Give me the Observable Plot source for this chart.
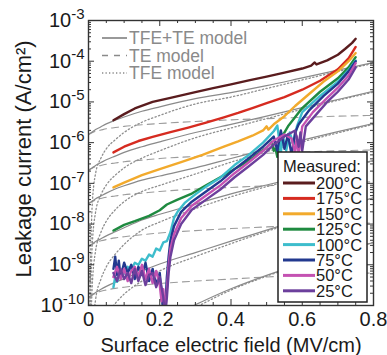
<!DOCTYPE html>
<html><head><meta charset="utf-8">
<script src="https://cdn.jsdelivr.net/npm/d3@7"></script>
<script src="https://cdn.jsdelivr.net/npm/@observablehq/plot@0.6"></script>
<style>
body{margin:0;background:#fff;}
#chart svg{font-family:"Liberation Sans",Arial,Helvetica,sans-serif;}
</style></head><body><div id="chart"></div>
<script>
// ---------- data ----------
const tempLabels = ["200°C","175°C","150°C","125°C","100°C","75°C","50°C","25°C"];
const tempColors = ["#5a1c1e","#d62b20","#f2aa2c","#1f8a40","#3dbdcc","#22398f","#c452b2","#6c3f9c"];
const modelLegend = ["TFE+TE model","TE model","TFE model"];
const xTitle = "Surface electric field (MV/cm)";
const yTitle = "Leakage current (A/cm²)";
const xMajor = [0,0.2,0.4,0.6,0.8];
const xMinor = [0.05,0.1,0.15,0.25,0.3,0.35,0.45,0.5,0.55,0.65,0.7,0.75];
const yMajor = [1e-10,1e-9,1e-8,1e-7,1e-6,1e-5,1e-4,1e-3];

// model curves: log10(J) at these fields, for 200,175,150,125,100,75 °C
const modelField = [0,0.01,0.02,0.035,0.05,0.075,0.1,0.15,0.2,0.3,0.4,0.5,0.6,0.7,0.8];
const modelTemps = ["200°C","175°C","150°C","125°C","100°C","75°C"];
const solidLog = [
  [-5.8,-5.74,-5.68,-5.61,-5.54,-5.45,-5.37,-5.23,-5.12,-4.92,-4.77,-4.6,-4.41,-4.22,-4.03],
  [-6.68,-6.62,-6.56,-6.49,-6.42,-6.33,-6.24,-6.1,-5.98,-5.75,-5.55,-5.35,-5.14,-4.94,-4.74],
  [-7.5,-7.44,-7.38,-7.31,-7.24,-7.14,-7.06,-6.92,-6.82,-6.62,-6.39,-6.16,-5.94,-5.73,-5.53],
  [-8.55,-8.49,-8.43,-8.36,-8.29,-8.19,-8.09,-7.9,-7.76,-7.51,-7.26,-7.04,-6.83,-6.63,-6.44],
  [-9.8,-9.74,-9.68,-9.6,-9.53,-9.43,-9.34,-9.15,-8.98,-8.7,-8.42,-8.15,-7.88,-7.61,-7.35],
  [-11.3,-11.25,-11.2,-11.15,-11.1,-11.03,-10.95,-10.62,-10.39,-9.98,-9.59,-9.26,-8.97,-8.69,-8.45]
];
const teLog = [
  [-5.8,-5.76,-5.72,-5.69,-5.66,-5.63,-5.6,-5.56,-5.53,-5.48,-5.44,-5.41,-5.38,-5.35,-5.33],
  [-6.68,-6.63,-6.59,-6.56,-6.53,-6.5,-6.47,-6.43,-6.39,-6.34,-6.3,-6.26,-6.23,-6.2,-6.18],
  [-7.5,-7.45,-7.41,-7.37,-7.34,-7.31,-7.28,-7.24,-7.2,-7.14,-7.1,-7.06,-7.02,-6.99,-6.96],
  [-8.55,-8.5,-8.45,-8.41,-8.38,-8.34,-8.31,-8.26,-8.22,-8.16,-8.11,-8.07,-8.03,-8.0,-7.97],
  [-9.8,-9.75,-9.7,-9.65,-9.62,-9.58,-9.55,-9.5,-9.46,-9.4,-9.35,-9.3,-9.26,-9.23,-9.2],
  [-11.3,-11.25,-11.2,-11.15,-11.1,-11.05,-11.0,-10.95,-10.9,-10.83,-10.78,-10.73,-10.68,-10.64,-10.6]
];
const tfeLog = [
  [-12,-7.6,-6.75,-6.38,-6.15,-5.93,-5.75,-5.5,-5.33,-5.05,-4.88,-4.67,-4.46,-4.25,-4.05],
  [-13,-8.6,-7.7,-7.28,-7.04,-6.8,-6.62,-6.38,-6.2,-5.88,-5.64,-5.41,-5.18,-4.96,-4.76],
  [-14,-9.6,-8.65,-8.2,-7.93,-7.65,-7.45,-7.2,-7.05,-6.77,-6.48,-6.22,-5.98,-5.76,-5.55],
  [-15,-10.8,-9.85,-9.35,-9.05,-8.74,-8.5,-8.15,-7.95,-7.62,-7.33,-7.08,-6.86,-6.65,-6.45],
  [-16,-12.2,-11.1,-10.55,-10.25,-9.95,-9.72,-9.4,-9.15,-8.8,-8.48,-8.18,-7.9,-7.62,-7.36],
  [-17,-14,-12.9,-12.2,-11.8,-11.4,-11.15,-10.8,-10.52,-10.05,-9.62,-9.28,-8.98,-8.7,-8.45]
];

// measured curves: [field (MV/cm), log10 J]
const m200 = [[0.07,-5.45],[0.1,-5.3],[0.13,-5.16],[0.18,-5.0],[0.23,-4.9],[0.3,-4.76],[0.35,-4.66],[0.4,-4.57],[0.45,-4.47],[0.5,-4.38],[0.55,-4.28],[0.6,-4.18],[0.625,-4.11],[0.635,-4.03],[0.64,-4.08],[0.67,-3.98],[0.7,-3.84],[0.72,-3.7],[0.74,-3.55],[0.75,-3.45]];
const m175 = [[0.07,-6.24],[0.1,-6.1],[0.14,-5.96],[0.18,-5.86],[0.23,-5.74],[0.28,-5.63],[0.33,-5.51],[0.38,-5.38],[0.42,-5.27],[0.46,-5.15],[0.5,-5.03],[0.55,-4.88],[0.6,-4.7],[0.65,-4.48],[0.7,-4.2],[0.73,-3.93],[0.75,-3.65]];
const m150 = [[0.07,-7.1],[0.1,-6.98],[0.15,-6.8],[0.2,-6.65],[0.26,-6.48],[0.32,-6.3],[0.38,-6.1],[0.42,-5.97],[0.46,-5.83],[0.49,-5.7],[0.5,-5.6],[0.505,-5.68],[0.52,-5.55],[0.55,-5.35],[0.58,-5.1],[0.62,-4.8],[0.66,-4.5],[0.7,-4.25],[0.73,-4.0],[0.75,-3.8]];
const m125 = [[0.07,-8.16],[0.1,-8.02],[0.13,-7.93],[0.17,-7.8],[0.2,-7.66],[0.22,-7.52],[0.25,-7.4],[0.29,-7.25],[0.33,-7.05],[0.37,-6.85],[0.42,-6.6],[0.46,-6.38],[0.5,-6.12],[0.515,-5.98],[0.52,-6.2],[0.525,-6.15],[0.53,-6.35],[0.54,-5.9],[0.56,-5.6],[0.6,-5.15],[0.65,-4.75],[0.7,-4.42],[0.73,-4.15],[0.75,-3.9]];
const m100 = [[0.07,-9.55],[0.075,-9.3],[0.08,-9.42],[0.09,-9.15],[0.1,-9.22],[0.11,-9.05],[0.12,-9.12],[0.13,-8.95],[0.14,-9.0],[0.15,-8.85],[0.16,-8.9],[0.17,-8.75],[0.18,-8.8],[0.19,-8.6],[0.2,-8.65],[0.21,-8.45],[0.22,-8.42],[0.23,-8.2],[0.24,-7.85],[0.25,-7.7],[0.27,-7.48],[0.3,-7.27],[0.33,-7.08],[0.37,-6.86],[0.41,-6.55],[0.45,-6.3],[0.49,-6.0],[0.52,-5.72],[0.53,-5.58],[0.535,-5.9],[0.54,-6.25],[0.545,-5.8],[0.555,-6.2],[0.565,-5.75],[0.575,-6.05],[0.585,-5.6],[0.6,-5.25],[0.65,-4.85],[0.7,-4.5],[0.73,-4.22],[0.75,-3.98]];
const m75 = [[0.07,-9.1],[0.075,-8.8],[0.08,-9.25],[0.085,-8.9],[0.09,-9.3],[0.1,-8.95],[0.11,-9.2],[0.12,-9.0],[0.13,-9.35],[0.14,-9.05],[0.15,-9.25],[0.16,-8.95],[0.17,-9.4],[0.18,-9.1],[0.19,-9.5],[0.2,-9.2],[0.205,-9.7],[0.21,-10.2],[0.215,-10.1],[0.22,-9.3],[0.225,-8.8],[0.23,-8.4],[0.24,-8.05],[0.26,-7.7],[0.29,-7.45],[0.33,-7.2],[0.37,-6.95],[0.41,-6.65],[0.45,-6.38],[0.49,-6.1],[0.52,-5.85],[0.53,-6.2],[0.54,-5.7],[0.55,-6.15],[0.56,-5.8],[0.57,-6.3],[0.58,-5.75],[0.59,-5.55],[0.62,-5.2],[0.66,-4.85],[0.7,-4.55],[0.73,-4.25],[0.75,-4.0]];
const m50 = [[0.07,-9.3],[0.08,-9.05],[0.09,-9.35],[0.1,-9.1],[0.11,-9.4],[0.12,-9.15],[0.13,-9.05],[0.14,-9.3],[0.15,-9.0],[0.16,-9.35],[0.17,-9.1],[0.18,-9.45],[0.19,-9.15],[0.2,-9.5],[0.205,-9.9],[0.21,-9.6],[0.215,-10.2],[0.22,-9.6],[0.225,-9.0],[0.23,-8.6],[0.24,-8.25],[0.26,-7.85],[0.29,-7.55],[0.33,-7.3],[0.37,-7.05],[0.41,-6.75],[0.45,-6.48],[0.49,-6.2],[0.52,-5.95],[0.55,-5.8],[0.57,-5.9],[0.58,-6.25],[0.585,-5.85],[0.59,-6.3],[0.6,-5.6],[0.63,-5.25],[0.67,-4.9],[0.7,-4.65],[0.73,-4.35],[0.75,-4.05]];
const m25 = [[0.07,-9.2],[0.08,-9.4],[0.09,-9.1],[0.1,-9.35],[0.11,-9.2],[0.12,-9.45],[0.13,-9.1],[0.14,-9.4],[0.15,-9.15],[0.16,-9.5],[0.17,-9.25],[0.18,-9.2],[0.19,-9.55],[0.2,-9.3],[0.21,-9.8],[0.215,-10.3],[0.22,-9.8],[0.225,-9.2],[0.23,-8.8],[0.24,-8.4],[0.26,-8.0],[0.29,-7.65],[0.33,-7.4],[0.37,-7.15],[0.41,-6.85],[0.45,-6.58],[0.49,-6.3],[0.52,-6.05],[0.55,-5.85],[0.58,-5.7],[0.59,-6.1],[0.595,-5.75],[0.6,-6.2],[0.61,-5.6],[0.64,-5.3],[0.67,-5.0],[0.7,-4.75],[0.73,-4.45],[0.75,-4.15]];
const measuredSets = [m200,m175,m150,m125,m100,m75,m50,m25];

// ---------- build rows ----------
function modelRows(table){
  const rows=[];
  table.forEach((vals,i)=>vals.forEach((v,j)=>rows.push({t:modelTemps[i],E:modelField[j],J:Math.pow(10,v)})));
  return rows;
}
const solidRows = modelRows(solidLog), teRows = modelRows(teLog), tfeRows = modelRows(tfeLog);
const measRows = [];
measuredSets.forEach((set,i)=>set.forEach(([e,l])=>measRows.push({t:tempLabels[i],E:e,J:Math.pow(10,l)})));
const yMinor = [];
yMajor.slice(0,-1).forEach(b=>{for(let k=2;k<=9;k++) yMinor.push(b*k);});

const W=387,H=355,mL=88,mR=14,mT=20,mB=50;
const pw=W-mL-mR, ph=H-mT-mB;

const plot = Plot.plot({
  width:W, height:H, marginLeft:mL, marginRight:mR, marginTop:mT, marginBottom:mB,
  style:{background:"#fff", color:"#1a1a1a", fontFamily:"Liberation Sans, Arial, sans-serif"},
  x:{domain:[0,0.8]},
  y:{type:"log", domain:[1e-10,1e-3]},
  color:{domain:tempLabels, range:tempColors},
  marks:[
    Plot.line(teRows,{x:"E",y:"J",z:"t",stroke:"#9c9c9c",strokeWidth:1.1,strokeDasharray:"7,5",curve:"monotone-x",clip:true}),
    Plot.line(tfeRows,{x:"E",y:"J",z:"t",stroke:"#8e8e8e",strokeWidth:1.3,strokeDasharray:"1.3,2.4",curve:"monotone-x",clip:true}),
    Plot.line(solidRows,{x:"E",y:"J",z:"t",stroke:"#8a8a8a",strokeWidth:1.2,curve:"monotone-x",clip:true}),
    Plot.line(measRows,{x:"E",y:"J",z:"t",stroke:"t",strokeWidth:2.4,clip:true}),
    // inward ticks
    Plot.ruleY(yMajor,{y:d=>d,insetRight:pw-6,stroke:"#333"}),
    Plot.ruleY(yMinor,{y:d=>d,insetRight:pw-3,stroke:"#333"}),
    Plot.ruleY(yMajor,{y:d=>d,insetLeft:pw-6,stroke:"#333"}),
    Plot.ruleY(yMinor,{y:d=>d,insetLeft:pw-3,stroke:"#333"}),
    Plot.ruleX(xMajor,{x:d=>d,insetTop:ph-6,stroke:"#333"}),
    Plot.ruleX(xMinor,{x:d=>d,insetTop:ph-3,stroke:"#333"}),
    Plot.ruleX(xMajor,{x:d=>d,insetBottom:ph-6,stroke:"#333"}),
    Plot.ruleX(xMinor,{x:d=>d,insetBottom:ph-3,stroke:"#333"}),
    Plot.frame({stroke:"#333",strokeWidth:1.4}),
    Plot.axisY(yMajor,{anchor:"left",tickSize:0,tickPadding:4,fontSize:20,label:null,
      tickFormat:d=>"10^"+Math.round(Math.log10(d))}),
    Plot.axisX(xMajor,{anchor:"bottom",tickSize:0,tickPadding:6,fontSize:20,label:null,
      tickFormat:d=>d===0?"0":d.toFixed(1)}),
    Plot.text([xTitle],{text:d=>d,frameAnchor:"bottom",lineAnchor:"middle",textAnchor:"middle",dy:40,fontSize:20}),
    Plot.text([yTitle],{text:d=>d,frameAnchor:"left",lineAnchor:"middle",textAnchor:"middle",rotate:-90,dx:-65,dy:-4,fontSize:22})
  ]
});
document.getElementById("chart").appendChild(plot);

const svg = d3.select(plot);
// superscript exponents on y tick labels
svg.selectAll('g[aria-label="y-axis tick label"] text').each(function(){
  const parts = this.textContent.split("^");
  const t = d3.select(this); t.text(null);
  t.append("tspan").text(parts[0]);
  t.append("tspan").attr("dy","-0.55em").attr("font-size","15px").text(parts[1]);
});

// model legend (top-left)
const lg = svg.append("g").attr("font-size",17.5).attr("fill","#8a8a8a").attr("text-anchor","start");
const dashes = [null,"6,6","1.3,2.2"];
modelLegend.forEach((s,i)=>{
  const y = 38 + i*17.5;
  lg.append("line").attr("x1",102).attr("x2",127).attr("y1",y).attr("y2",y)
    .attr("stroke", i===0?"#6e6e6e":"#8a8a8a").attr("stroke-width",1.4)
    .attr("stroke-dasharray",dashes[i]);
  lg.append("text").attr("x",129).attr("y",y).attr("dy","0.36em").text(s);
});

// measured legend box
const mg = svg.append("g").attr("font-size",16.5).attr("fill","#1a1a1a").attr("text-anchor","start");
mg.append("rect").attr("x",278).attr("y",152).attr("width",89).attr("height",150)
  .attr("fill","#fff").attr("stroke","#222").attr("stroke-width",1.5);
mg.append("text").attr("x",283).attr("y",166).attr("dy","0.36em").text("Measured:");
tempLabels.forEach((s,i)=>{
  const y = 183 + i*15.4;
  mg.append("line").attr("x1",283).attr("x2",315).attr("y1",y).attr("y2",y)
    .attr("stroke",tempColors[i]).attr("stroke-width",3);
  mg.append("text").attr("x",316).attr("y",y).attr("dy","0.36em").text(s);
});
</script></body></html>
